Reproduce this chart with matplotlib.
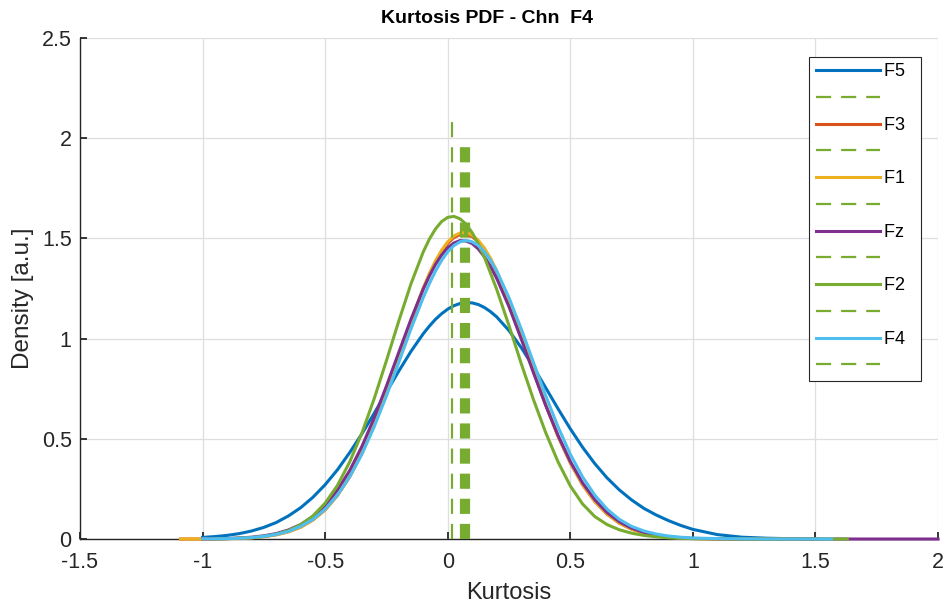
import matplotlib
matplotlib.use("Agg")
import matplotlib.pyplot as plt
import numpy as np

plt.rcParams['font.family'] = ['Liberation Sans', 'DejaVu Sans']
plt.rcParams['axes.unicode_minus'] = False

# kurtosis grid shared by all density curves
kurt = [-1.09, -1.0, -0.95, -0.9, -0.85, -0.8, -0.75, -0.7, -0.65, -0.6, -0.55, -0.5,
        -0.45, -0.4, -0.35, -0.3, -0.25, -0.2, -0.15, -0.1, -0.075, -0.05, -0.025, 0.0,
        0.025, 0.05, 0.075, 0.1, 0.125, 0.15, 0.175, 0.2, 0.25, 0.3, 0.35, 0.4, 0.45,
        0.5, 0.55, 0.6, 0.65, 0.7, 0.75, 0.8, 0.85, 0.9, 0.95, 1.0, 1.1, 1.2, 1.3, 1.4,
        1.5, 1.565, 1.63, 1.7, 1.8, 1.9, 2.0]

channels = ['F5', 'F3', 'F1', 'Fz', 'F2', 'F4']

pdf_f5 = [None, 0.008, 0.012, 0.018, 0.027, 0.040, 0.058, 0.082, 0.115, 0.156, 0.208, 0.271,
          0.345, 0.431, 0.525, 0.627, 0.733, 0.837, 0.936, 1.024, 1.062, 1.096, 1.124, 1.147,
          1.164, 1.175, 1.180, 1.178, 1.170, 1.155, 1.134, 1.108, 1.040, 0.955, 0.858, 0.754,
          0.650, 0.550, 0.458, 0.376, 0.305, 0.245, 0.195, 0.153, 0.120, 0.092, 0.068, 0.048,
          0.022, 0.009, 0.004, 0.0015, 0.0, None, None, None, None, None, None]
pdf_f3 = [0.0, 0.0, 0.001, 0.002, 0.003, 0.006, 0.012, 0.021, 0.036, 0.059, 0.095, 0.145,
          0.217, 0.310, 0.429, 0.571, 0.734, 0.909, 1.084, 1.247, 1.318, 1.381, 1.434, 1.475,
          1.504, 1.519, 1.521, 1.509, 1.483, 1.444, 1.393, 1.332, 1.184, 1.014, 0.838, 0.667,
          0.512, 0.380, 0.271, 0.187, 0.124, 0.079, 0.049, 0.029, 0.017, 0.009, 0.005, 0.002,
          0.001, 0.0, 0.0, 0.0, 0.0, None, None, None, None, None, None]
pdf_f1 = [0.0, 0.0, 0.001, 0.002, 0.003, 0.006, 0.012, 0.021, 0.036, 0.059, 0.095, 0.146,
          0.218, 0.312, 0.431, 0.574, 0.738, 0.913, 1.089, 1.253, 1.325, 1.388, 1.441, 1.483,
          1.512, 1.527, 1.529, 1.516, 1.490, 1.451, 1.400, 1.338, 1.190, 1.019, 0.842, 0.670,
          0.514, 0.381, 0.271, 0.187, 0.124, 0.079, 0.049, 0.029, 0.017, 0.009, 0.005, 0.002,
          0.001, 0.0, 0.0, 0.0, 0.0, None, None, None, None, None, None]
pdf_fz = [None, 0.001, 0.001, 0.002, 0.005, 0.009, 0.016, 0.027, 0.045, 0.072, 0.112, 0.168,
          0.244, 0.341, 0.462, 0.604, 0.763, 0.930, 1.096, 1.247, 1.312, 1.370, 1.417, 1.453,
          1.477, 1.489, 1.487, 1.474, 1.447, 1.408, 1.359, 1.300, 1.159, 0.998, 0.829, 0.666,
          0.517, 0.387, 0.280, 0.196, 0.132, 0.086, 0.054, 0.033, 0.020, 0.011, 0.006, 0.003,
          0.001, 0.0, 0.0, 0.0, 0.0, 0.0, 0.0, 0.0, 0.0, 0.0, 0.0]
pdf_f2 = [None, None, 0.001, 0.002, 0.004, 0.007, 0.013, 0.024, 0.042, 0.071, 0.115, 0.179,
          0.267, 0.384, 0.529, 0.700, 0.890, 1.086, 1.273, 1.432, 1.496, 1.547, 1.584, 1.605,
          1.610, 1.598, 1.571, 1.528, 1.472, 1.405, 1.325, 1.245, 1.065, 0.875, 0.695, 0.530,
          0.385, 0.265, 0.175, 0.112, 0.072, 0.046, 0.029, 0.018, 0.011, 0.006, 0.004, 0.002,
          0.001, 0.0, 0.0, 0.0, 0.0, 0.0, 0.0, None, None, None, None]
pdf_f4 = [None, 0.001, 0.001, 0.002, 0.004, 0.007, 0.013, 0.023, 0.038, 0.063, 0.098, 0.149,
          0.219, 0.310, 0.423, 0.560, 0.714, 0.880, 1.048, 1.204, 1.274, 1.337, 1.390, 1.433,
          1.464, 1.483, 1.490, 1.483, 1.464, 1.433, 1.390, 1.337, 1.204, 1.048, 0.880, 0.714,
          0.560, 0.423, 0.310, 0.219, 0.149, 0.098, 0.063, 0.040, 0.025, 0.015, 0.009, 0.005,
          0.002, 0.001, 0.0, 0.0, 0.0, 0.0, None, None, None, None, None]

# mean kurtosis marker per channel and its height
mean_kurt = [0.087, 0.063, 0.071, 0.055, 0.018, 0.079]
mean_height = [1.99, 1.98, 1.99, 1.97, 2.08, 2.00]

colors = ['#0072BD', '#D95319', '#EDB120', '#7E2F8E', '#77AC30', '#4DBEEE']
dash_color = '#77AC30'

fig = plt.figure(figsize=(9.46, 6.06), dpi=100)
ax = fig.add_axes([80 / 946, 67 / 606, 858 / 946, 501 / 606])

curves = [pdf_f5, pdf_f3, pdf_f1, pdf_fz, pdf_f2, pdf_f4]
handles, labels = [], []
for name, pdf, col, mx, mh in zip(channels, curves, colors, mean_kurt, mean_height):
    ln, = ax.plot(kurt, np.array(pdf, dtype=float), color=col, lw=2.2,
                  clip_on=False, zorder=3)
    dl, = ax.plot([mx, mx], [0, mh], color=dash_color, lw=1.6,
                  linestyle=(0, (6.8, 4.5)), zorder=3)
    handles += [ln, dl]
    labels += [name + '  ', '']

ax.set_xlim(-1.5, 2)
ax.set_ylim(0, 2.5)
ax.set_xticks(np.arange(-1.5, 2.01, 0.5))
ax.set_xticklabels(['-1.5', '-1', '-0.5', '0', '0.5', '1', '1.5', '2'])
ax.set_yticks(np.arange(0, 2.51, 0.5))
ax.set_yticklabels(['0', '0.5', '1', '1.5', '2', '2.5'])

ax.grid(True, color='#dedede', lw=0.9)
ax.set_axisbelow(True)
for side in ['top', 'right']:
    ax.spines[side].set_visible(False)
for side in ['left', 'bottom']:
    ax.spines[side].set_color('#262626')
    ax.spines[side].set_linewidth(1.0)
ax.tick_params(direction='in', length=5, width=1.3, color='#262626',
               labelcolor='#262626', labelsize=15.5)
ax.tick_params(axis='x', pad=9.5)
ax.tick_params(axis='y', pad=6)

ax.set_xlabel('Kurtosis', fontsize=17, color='#262626', labelpad=6)
ax.set_ylabel('Density [a.u.]', fontsize=17.5, color='#262626')
ax.yaxis.set_label_coords(-0.054, 0.48)
ax.set_title('Kurtosis PDF - Chn  F4', fontsize=14, fontweight='bold', pad=11, x=0.474)

leg = ax.legend(handles, labels, loc='upper right', bbox_to_anchor=(0.980, 0.962),
                borderaxespad=0, fontsize=13, handlelength=3.54, handletextpad=0.22,
                labelspacing=0.54, borderpad=0.35, fancybox=False, framealpha=1,
                edgecolor='#262626')
leg.get_frame().set_linewidth(0.8)

fig.savefig('out.png', dpi=100)
